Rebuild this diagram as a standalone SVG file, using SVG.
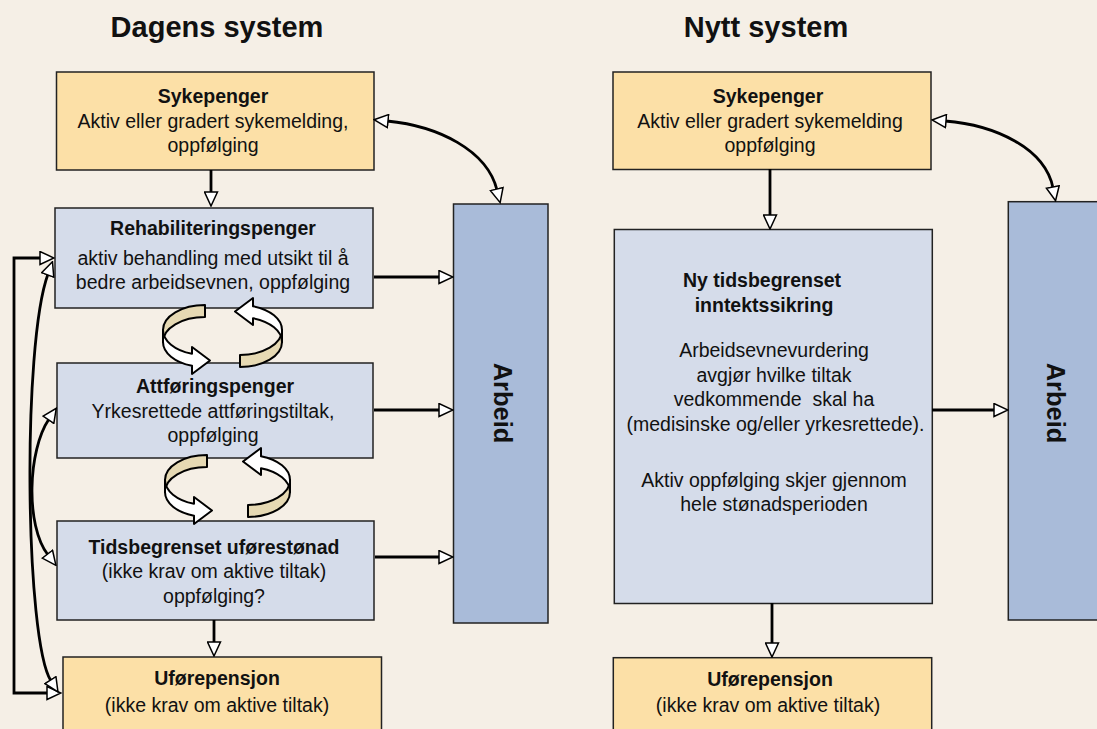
<svg xmlns="http://www.w3.org/2000/svg" width="1097" height="729" viewBox="0 0 1097 729">
<defs>
<style>
.bg{fill:#f5efe6}
.y{fill:#fce0a7;stroke:#222;stroke-width:1.5}
.b{fill:#d5dcea;stroke:#222;stroke-width:1.5}
.w{fill:#a9bbd9;stroke:#222;stroke-width:1.5}
text{font-family:"Liberation Sans",Arial,sans-serif;font-size:19.5px;fill:#111;text-anchor:middle}
.t{font-weight:bold}
.h{font-weight:bold;font-size:29px}
.v{font-weight:bold;font-size:25.5px}
.c{fill:none;stroke:#000;stroke-width:2.8}
.tan{fill:#e6d9b3;stroke:#000;stroke-width:2;stroke-linejoin:round}
.wh{fill:#fff;stroke:#000;stroke-width:2;stroke-linejoin:round}
</style>
<marker id="ah" markerUnits="userSpaceOnUse" markerWidth="16" markerHeight="15" viewBox="-1 -1 16 15" refX="1" refY="6.5" orient="auto-start-reverse">
<path d="M0,0 L14,6.5 L0,13 Z" fill="#fff" stroke="#000" stroke-width="1.5" stroke-linejoin="miter"/>
</marker>
<g id="rib">
<path class="tan" d="M205,305 A42,25 0 0 0 163,330 L163,342 A42,25 0 0 1 205,317 Z"/>
<path class="wh" d="M163,330 A42,25 0 0 0 192,353.8 L192,347 L210,360.5 L192,374 L192,365.8 A42,25 0 0 1 163,342 Z"/>
</g>
</defs>
<rect class="bg" x="0" y="0" width="1097" height="729"/>
<text class="h" x="217" y="37">Dagens system</text>
<text class="h" x="766" y="37">Nytt system</text>

<g id="syk1"><rect class="y" x="56.5" y="72" width="317.5" height="98"/>
<text class="t" x="213" y="103">Sykepenger</text>
<text x="213" y="128">Aktiv eller gradert sykemelding,</text>
<text x="213" y="152">oppfølging</text></g>

<g id="rehab"><rect class="b" x="55" y="208" width="318" height="100"/>
<text class="t" x="213" y="235">Rehabiliteringspenger</text>
<text x="213" y="265">aktiv behandling med utsikt til å</text>
<text x="213" y="289">bedre arbeidsevnen, oppfølging</text></g>

<g id="attf"><rect class="b" x="57" y="363" width="316" height="95"/>
<text class="t" x="215" y="393">Attføringspenger</text>
<text x="213" y="418">Yrkesrettede attføringstiltak,</text>
<text x="213" y="442">oppfølging</text></g>

<g id="tids"><rect class="b" x="57" y="521" width="317" height="99"/>
<text class="t" x="214" y="554">Tidsbegrenset uførestønad</text>
<text x="214" y="578">(ikke krav om aktive tiltak)</text>
<text x="214" y="603">oppfølging?</text></g>

<g id="ufore1"><rect class="y" x="63" y="657" width="318.5" height="80"/>
<text class="t" x="217" y="685">Uførepensjon</text>
<text x="217" y="712">(ikke krav om aktive tiltak)</text></g>

<g id="arbeid1"><rect class="w" x="453.5" y="204" width="94.5" height="419"/>
<text class="v" transform="translate(494,403) rotate(90)">Arbeid</text></g>

<g id="syk2"><rect class="y" x="613" y="72" width="318" height="97.5"/>
<text class="t" x="768" y="103">Sykepenger</text>
<text x="770" y="128">Aktiv eller gradert sykemelding</text>
<text x="770" y="152">oppfølging</text></g>

<g id="ny"><rect class="b" x="614.3" y="229.5" width="318" height="374"/>
<text class="t" x="762" y="287">Ny tidsbegrenset</text>
<text class="t" x="764" y="312">inntektssikring</text>
<text x="774" y="357">Arbeidsevnevurdering</text>
<text x="774" y="382">avgjør hvilke tiltak</text>
<text x="774" y="406" xml:space="preserve">vedkommende  skal ha</text>
<text x="775.5" y="431">(medisinske og/eller yrkesrettede).</text>
<text x="774" y="487">Aktiv oppfølging skjer gjennom</text>
<text x="774" y="511">hele stønadsperioden</text></g>

<g id="ufore2"><rect class="y" x="613.3" y="657.7" width="318.4" height="80"/>
<text class="t" x="770" y="686">Uførepensjon</text>
<text x="768" y="712">(ikke krav om aktive tiltak)</text></g>

<g id="arbeid2"><rect class="w" x="1008.3" y="201.7" width="100" height="418.3"/>
<text class="v" transform="translate(1047,403) rotate(90)">Arbeid</text></g>

<g id="connectors">
<path class="c" marker-end="url(#ah)" d="M211,170 V193"/>
<path class="c" marker-end="url(#ah)" d="M374,277 H440"/>
<path class="c" marker-end="url(#ah)" d="M374,410 H440"/>
<path class="c" marker-end="url(#ah)" d="M375,557 H440"/>
<path class="c" marker-end="url(#ah)" d="M214,620 V643"/>
<path class="c" marker-start="url(#ah)" marker-end="url(#ah)" d="M387,121 C438,126 487,150 497,190"/>
<path class="c" marker-start="url(#ah)" marker-end="url(#ah)" d="M41,258 H14 V693 H48"/>
<path class="c" marker-start="url(#ah)" marker-end="url(#ah)" d="M48,274 C22,345 25,640 51,681"/>
<path class="c" marker-start="url(#ah)" marker-end="url(#ah)" d="M49,419 C28,450 25,525 48,555"/>
<path class="c" marker-end="url(#ah)" d="M770,169 V216"/>
<path class="c" marker-end="url(#ah)" d="M932,410 H995"/>
<path class="c" marker-end="url(#ah)" d="M772,603 V644"/>
<path class="c" marker-start="url(#ah)" marker-end="url(#ah)" d="M945,121 C995,125 1045,148 1053,188"/>
<use href="#rib"/>
<use href="#rib" transform="rotate(180,222.5,336)"/>
<use href="#rib" transform="translate(2,150)"/>
<use href="#rib" transform="translate(8,150) rotate(180,222.5,336)"/>
</g>
</svg>
